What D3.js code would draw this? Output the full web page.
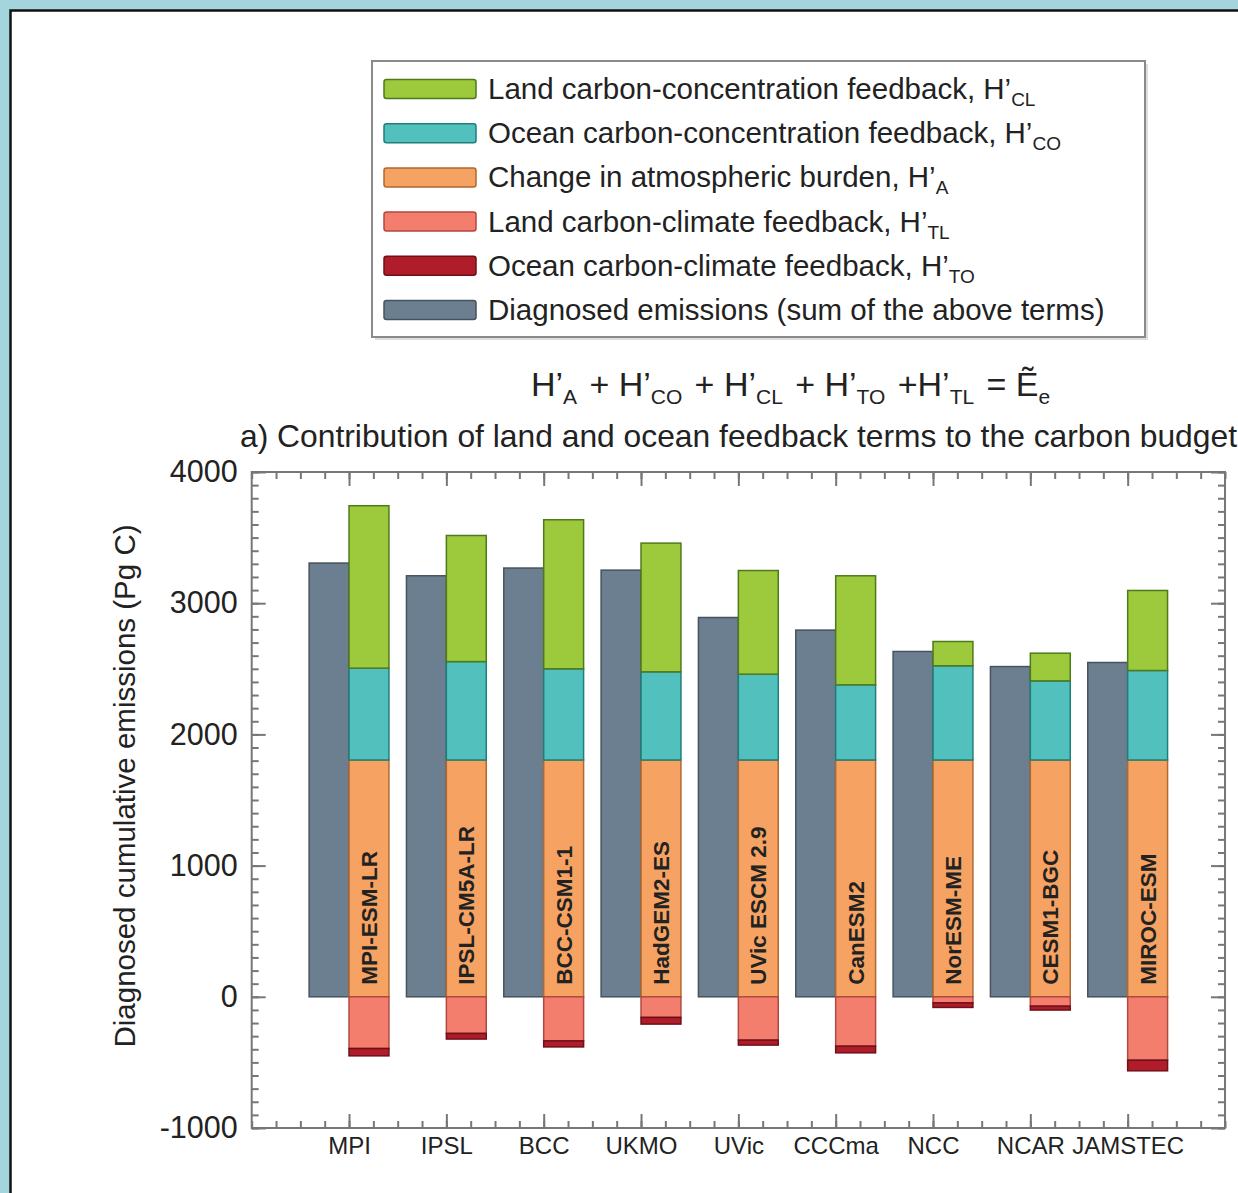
<!DOCTYPE html>
<html>
<head>
<meta charset="utf-8">
<script src="https://cdn.jsdelivr.net/npm/d3@7"></script>
<style>
  html, body { margin: 0; padding: 0; background: #a4d4dc; }
  svg { display: block; font-family: "Liberation Sans", Arial, Helvetica, sans-serif; }
</style>
</head>
<body>
<div id="chart"></div>
<script>
// Modelling centres (x axis) and model names written in the bars
const categories = ["MPI", "IPSL", "BCC", "UKMO", "UVic", "CCCma", "NCC", "NCAR", "JAMSTEC"];
const models = ["MPI-ESM-LR", "IPSL-CM5A-LR", "BCC-CSM1-1", "HadGEM2-ES", "UVic ESCM 2.9",
  "CanESM2", "NorESM-ME", "CESM1-BGC", "MIROC-ESM"];

// Diagnosed cumulative emissions (Pg C)
const diagnosed = [3306, 3209, 3268, 3252, 2891, 2795, 2632, 2517, 2548];

// Budget terms (Pg C)
const atmosBurden = [1805, 1805, 1805, 1805, 1805, 1805, 1805, 1805, 1805];   // H'A
const oceanConc = [700, 750, 695, 672, 654, 573, 718, 603, 682];             // H'CO
const landConc = [1238, 961, 1136, 981, 790, 831, 185, 211, 610];            // H'CL
const landClimate = [-394, -279, -336, -157, -330, -376, -46, -71, -483];    // H'TL
const oceanClimate = [-56, -43, -46, -51, -38, -51, -35, -30, -81];          // H'TO

const yTicks = [-1000, 0, 1000, 2000, 3000, 4000];

const width = 1238;
const height = 1193;

const colors = {
  A: "#f6a262", CO: "#52c1be", CL: "#9cca3c", TL: "#f37e6e", TO: "#b01c2a", E: "#6c7f91"
};
const strokes = {
  A: "#b06a30", CO: "#1f7f7a", CL: "#4f7a1c", TL: "#b04a40", TO: "#6e1018", E: "#46535e"
};

const svg = d3.select("#chart").append("svg")
  .attr("width", width)
  .attr("height", height);

// white panel with black border (runs off right and bottom)
svg.append("rect")
  .attr("x", 10.5).attr("y", 10.5)
  .attr("width", 1400).attr("height", 1400)
  .attr("fill", "#fff")
  .attr("stroke", "#111")
  .attr("stroke-width", 2.5);

// Scales
const x = d3.scaleLinear().domain([0, 10]).range([251.7, 1225]);
const y = d3.scaleLinear().domain([-1000, 4000]).range([1128, 472]);
const unit = x(1) - x(0);
const barW = 0.41 * unit;

// Stack the terms
const rows = categories.map((c, i) => ({
  i, A: atmosBurden[i], CO: oceanConc[i], CL: landConc[i], TL: landClimate[i], TO: oceanClimate[i]
}));
const keys = ["A", "CO", "CL", "TL", "TO"];
const series = d3.stack().keys(keys).offset(d3.stackOffsetDiverging)(rows);

const plot = svg.append("g");

// Diagnosed emissions bars (left of tick)
plot.selectAll(".diag")
  .data(diagnosed)
  .join("rect")
  .attr("class", "diag")
  .attr("x", (d, i) => x(i + 1) - barW)
  .attr("y", d => y(d))
  .attr("width", barW)
  .attr("height", d => y(0) - y(d))
  .attr("fill", colors.E)
  .attr("stroke", strokes.E)
  .attr("stroke-width", 1.5);

// Stacked terms (right of tick)
series.forEach(s => {
  plot.selectAll(`.seg-${s.key}`)
    .data(s)
    .join("rect")
    .attr("class", `seg-${s.key}`)
    .attr("x", (d, i) => x(i + 1))
    .attr("y", d => y(Math.max(d[0], d[1])))
    .attr("width", barW)
    .attr("height", d => Math.abs(y(d[0]) - y(d[1])))
    .attr("fill", colors[s.key])
    .attr("stroke", strokes[s.key])
    .attr("stroke-width", 1.5);
});

// Model names in the orange bars
plot.selectAll(".model")
  .data(models)
  .join("text")
  .attr("class", "model")
  .attr("transform", (d, i) => `translate(${x(i + 1) + barW / 2 + 8}, ${y(0) - 12}) rotate(-90)`)
  .attr("font-size", 22.5)
  .attr("font-weight", "bold")
  .attr("fill", "#222")
  .text(d => d);

// Frame
svg.append("rect")
  .attr("x", x(0)).attr("y", y(4000))
  .attr("width", x(10) - x(0)).attr("height", y(-1000) - y(4000))
  .attr("fill", "none")
  .attr("stroke", "#777")
  .attr("stroke-width", 2);

const styleAxis = g => {
  g.select(".domain").remove();
  g.selectAll(".tick line").attr("stroke", "#777").attr("stroke-width", 2);
};

const minorY = d3.range(-1000, 4001, 100);
const minorX = d3.range(0, 10.001, 0.25);
const majorX = d3.range(1, 10);

// Left axis
svg.append("g")
  .attr("transform", `translate(${x(0)},0)`)
  .call(d3.axisLeft(y).tickValues(minorY).tickSize(-7).tickFormat(""))
  .call(styleAxis);
svg.append("g")
  .attr("transform", `translate(${x(0)},0)`)
  .call(d3.axisLeft(y).tickValues(yTicks).tickSize(-14).tickPadding(14).tickFormat(d => String(d)))
  .call(styleAxis)
  .selectAll("text")
  .attr("font-size", 30.5)
  .attr("fill", "#222")
  .style("font-family", "inherit");

// Right axis
svg.append("g")
  .attr("transform", `translate(${x(10)},0)`)
  .call(d3.axisRight(y).tickValues(minorY).tickSize(-7).tickFormat(""))
  .call(styleAxis);
svg.append("g")
  .attr("transform", `translate(${x(10)},0)`)
  .call(d3.axisRight(y).tickValues(yTicks).tickSize(-14).tickFormat(""))
  .call(styleAxis);

// Bottom axis
svg.append("g")
  .attr("transform", `translate(0,${y(-1000)})`)
  .call(d3.axisBottom(x).tickValues(minorX).tickSize(-7).tickFormat(""))
  .call(styleAxis);
svg.append("g")
  .attr("transform", `translate(0,${y(-1000)})`)
  .call(d3.axisBottom(x).tickValues(majorX).tickSize(-14).tickPadding(9).tickFormat(d => categories[d - 1]))
  .call(styleAxis)
  .selectAll("text")
  .attr("font-size", 24)
  .attr("fill", "#222")
  .style("font-family", "inherit");

// Top axis
svg.append("g")
  .attr("transform", `translate(0,${y(4000)})`)
  .call(d3.axisTop(x).tickValues(minorX).tickSize(-7).tickFormat(""))
  .call(styleAxis);
svg.append("g")
  .attr("transform", `translate(0,${y(4000)})`)
  .call(d3.axisTop(x).tickValues(majorX).tickSize(-14).tickFormat(""))
  .call(styleAxis);

// Y axis label
svg.append("text")
  .attr("transform", `translate(135, 786) rotate(-90)`)
  .attr("text-anchor", "middle")
  .attr("font-size", 29.5)
  .attr("fill", "#222")
  .text("Diagnosed cumulative emissions (Pg C)");

// Title
svg.append("text")
  .attr("x", 240).attr("y", 447)
  .attr("font-size", 31.8)
  .attr("fill", "#222")
  .text("a) Contribution of land and ocean feedback terms to the carbon budget");

// Helper: text with subscripts
const richText = (sel, parts, size, subSize, shift) => {
  parts.forEach(p => {
    if (p.sub) {
      sel.append("tspan").attr("font-size", subSize).attr("dy", shift).text(p.sub);
      sel.append("tspan").attr("dy", -shift).text("\u200a");
    } else {
      sel.append("tspan").attr("font-size", size).text(p.t);
    }
  });
};

// Equation
const eq = svg.append("text")
  .attr("x", 531).attr("y", 396)
  .attr("font-size", 34)
  .attr("fill", "#222");
richText(eq, [
  { t: "H’" }, { sub: "A" }, { t: " + H’" }, { sub: "CO" }, { t: " + H’" }, { sub: "CL" },
  { t: " + H’" }, { sub: "TO" }, { t: " +H’" }, { sub: "TL" }, { t: " = Ẽ" }, { sub: "e" }
], 34, 21, 8);

// Legend
const legendItems = [
  { key: "CL", text: "Land carbon-concentration feedback, H’", sub: "CL" },
  { key: "CO", text: "Ocean carbon-concentration feedback, H’", sub: "CO" },
  { key: "A", text: "Change in atmospheric burden, H’", sub: "A" },
  { key: "TL", text: "Land carbon-climate feedback, H’", sub: "TL" },
  { key: "TO", text: "Ocean carbon-climate feedback, H’", sub: "TO" },
  { key: "E", text: "Diagnosed emissions (sum of the above terms)", sub: null }
];

svg.append("rect")
  .attr("x", 375).attr("y", 64)
  .attr("width", 773).attr("height", 276)
  .attr("fill", "#ddd");
svg.append("rect")
  .attr("x", 372).attr("y", 61)
  .attr("width", 773).attr("height", 276)
  .attr("fill", "#fff")
  .attr("stroke", "#8a8a8a")
  .attr("stroke-width", 2);

const legend = svg.append("g");
legendItems.forEach((item, i) => {
  const cy = 89 + i * 44.2;
  legend.append("rect")
    .attr("x", 384).attr("y", cy - 9.5)
    .attr("width", 92).attr("height", 19)
    .attr("rx", 2.5)
    .attr("fill", colors[item.key])
    .attr("stroke", strokes[item.key])
    .attr("stroke-width", 1.5);
  const t = legend.append("text")
    .attr("x", 488).attr("y", cy + 10)
    .attr("font-size", 29.5)
    .attr("fill", "#222");
  t.append("tspan").text(item.text);
  if (item.sub) t.append("tspan").attr("font-size", 19).attr("dy", 7).text(item.sub);
});
</script>
</body>
</html>
